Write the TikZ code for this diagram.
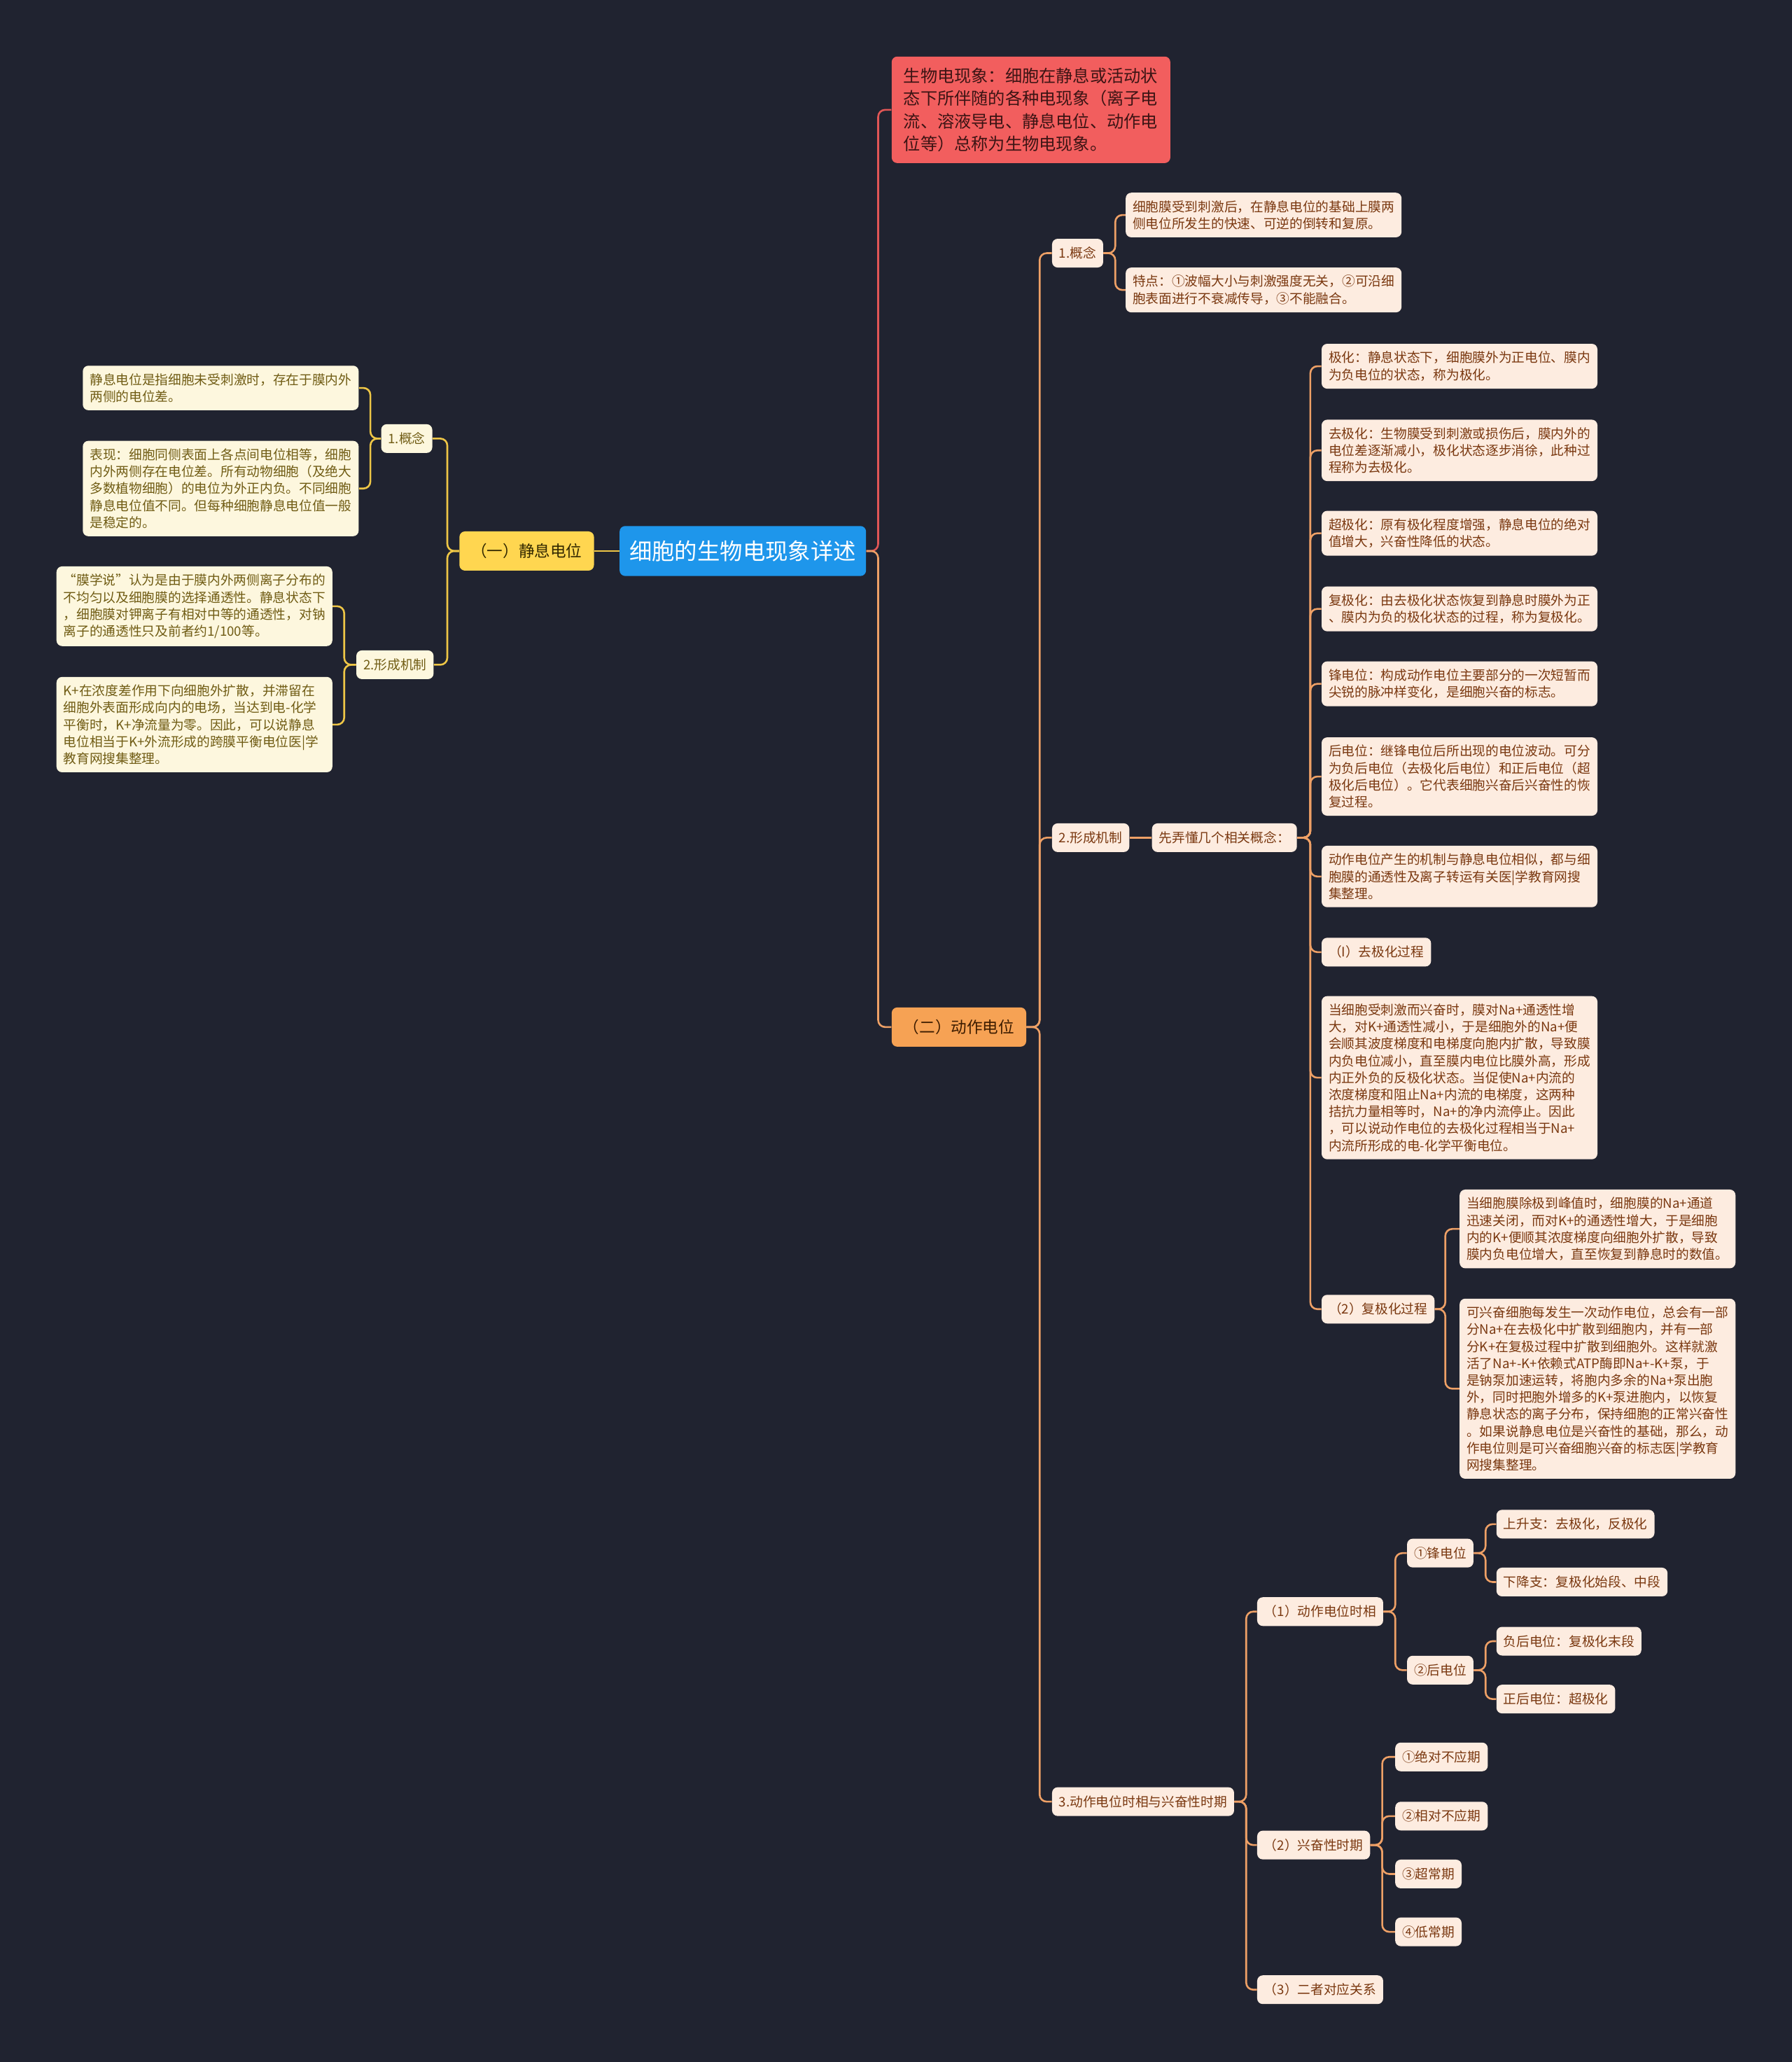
\documentclass[tikz,border=0pt]{standalone}
\usepackage{fontspec}
\setmainfont{Noto Sans CJK SC}
\definecolor{bgdark}{RGB}{32,35,48}
\definecolor{rootblue}{RGB}{30,150,235}
\definecolor{mainyel}{RGB}{255,214,80}
\definecolor{mainora}{RGB}{246,162,84}
\definecolor{mainred}{RGB}{242,94,94}
\definecolor{creamyel}{RGB}{253,247,222}
\definecolor{creamora}{RGB}{253,236,224}
\definecolor{txtolive}{RGB}{112,92,20}
\definecolor{txtbrown}{RGB}{122,56,16}
\definecolor{lnyel}{RGB}{238,198,70}
\definecolor{lnora}{RGB}{238,160,102}
\definecolor{lnred}{RGB}{225,86,86}

\begin{document}
\begin{tikzpicture}[x=0.939pt, y=-0.939pt,
    leaf/.style={rounded corners=4pt, inner xsep=5pt, inner ysep=5.5pt, minimum height=20.5pt,
        font=\fontsize{9.35pt}{12.1pt}\selectfont, align=left},
    yleaf/.style={leaf, fill=creamyel, text=txtolive},
    oleaf/.style={leaf, fill=creamora, text=txtbrown},
    wide/.style={text width=187pt},
    topic/.style={rounded corners=4pt, inner xsep=8.5pt, minimum height=28pt,
        font=\fontsize{11.3pt}{14pt}\selectfont},
    lnY/.style={draw=lnyel, line width=1.3pt, rounded corners=5pt},
    lnO/.style={draw=lnora, line width=1.3pt, rounded corners=5pt},
    lnR/.style={draw=lnred, line width=1.3pt, rounded corners=5pt}]

\fill[bgdark] (0,0) rectangle (1363,1568);

% centre
\node[fill=rootblue, text=white, rounded corners=4pt, inner xsep=7pt, minimum height=35.7pt,
    font=\fontsize{16.2pt}{19pt}\selectfont] (root) at (565,419) {细胞的生物电现象详述};

% (一) 静息电位
\node[topic, fill=mainyel, text={rgb,255:red,50;green,40;blue,0}, anchor=east] (rest) at (452,419) {（一）静息电位};
\node[yleaf, anchor=east] (restA) at (329,333.5) {1.概念};
\node[yleaf, wide, anchor=east] (restAa) at (273,295) {静息电位是指细胞未受刺激时，存在于膜内外\\两侧的电位差。};
\node[yleaf, wide, anchor=east] (restAb) at (273,371.5) {表现：细胞同侧表面上各点间电位相等，细胞\\内外两侧存在电位差。所有动物细胞（及绝大\\多数植物细胞）的电位为外正内负。不同细胞\\静息电位值不同。但每种细胞静息电位值一般\\是稳定的。};
\node[yleaf, anchor=east] (restB) at (330,505.5) {2.形成机制};
\node[yleaf, wide, anchor=east] (restBa) at (253,461) {“膜学说”认为是由于膜内外两侧离子分布的\\不均匀以及细胞膜的选择通透性。静息状态下\\，细胞膜对钾离子有相对中等的通透性，对钠\\离子的通透性只及前者约1/100等。};
\node[yleaf, wide, anchor=east] (restBb) at (253,551) {K+在浓度差作用下向细胞外扩散，并滞留在\\细胞外表面形成向内的电场，当达到电-化学\\平衡时，K+净流量为零。因此，可以说静息\\电位相当于K+外流形成的跨膜平衡电位医|学\\教育网搜集整理。};

% 生物电现象
\node[fill=mainred, text={rgb,255:red,60;green,20;blue,20}, rounded corners=4pt, inner xsep=8.5pt, inner ysep=8pt,
    text width=182pt, align=left, font=\fontsize{12.1pt}{16.2pt}\selectfont, anchor=west] (bio) at (678,83.5)
    {生物电现象：细胞在静息或活动状\\态下所伴随的各种电现象（离子电\\流、溶液导电、静息电位、动作电\\位等）总称为生物电现象。};

% (二) 动作电位
\node[topic, fill=mainora, text={rgb,255:red,60;green,28;blue,0}, anchor=west] (act) at (678,781) {（二）动作电位};
\node[oleaf, anchor=west] (actA) at (800,192.5) {1.概念};
\node[oleaf, wide, anchor=west] (actAa) at (856,163.5) {细胞膜受到刺激后，在静息电位的基础上膜两\\侧电位所发生的快速、可逆的倒转和复原。};
\node[oleaf, wide, anchor=west] (actAb) at (856,220.5) {特点：①波幅大小与刺激强度无关，②可沿细\\胞表面进行不衰减传导，③不能融合。};

\node[oleaf, anchor=west] (actB) at (800,637) {2.形成机制};
\node[oleaf, anchor=west] (actBx) at (876,637) {先弄懂几个相关概念：};
\node[oleaf, wide, anchor=west] (p1) at (1005,278.5) {极化：静息状态下，细胞膜外为正电位、膜内\\为负电位的状态，称为极化。};
\node[oleaf, wide, anchor=west] (p2) at (1005,342.5) {去极化：生物膜受到刺激或损伤后，膜内外的\\电位差逐渐减小，极化状态逐步消徐，此种过\\程称为去极化。};
\node[oleaf, wide, anchor=west] (p3) at (1005,405.5) {超极化：原有极化程度增强，静息电位的绝对\\值增大，兴奋性降低的状态。};
\node[oleaf, wide, anchor=west] (p4) at (1005,463) {复极化：由去极化状态恢复到静息时膜外为正\\、膜内为负的极化状态的过程，称为复极化。};
\node[oleaf, wide, anchor=west] (p5) at (1005,520) {锋电位：构成动作电位主要部分的一次短暂而\\尖锐的脉冲样变化，是细胞兴奋的标志。};
\node[oleaf, wide, anchor=west] (p6) at (1005,590.5) {后电位：继锋电位后所出现的电位波动。可分\\为负后电位（去极化后电位）和正后电位（超\\极化后电位）。它代表细胞兴奋后兴奋性的恢\\复过程。};
\node[oleaf, wide, anchor=west] (p7) at (1005,666.5) {动作电位产生的机制与静息电位相似，都与细\\胞膜的通透性及离子转运有关医|学教育网搜\\集整理。};
\node[oleaf, anchor=west] (p8) at (1005,724) {（I）去极化过程};
\node[oleaf, wide, anchor=west] (p9) at (1005,819.5) {当细胞受刺激而兴奋时，膜对Na+通透性增\\大，对K+通透性减小，于是细胞外的Na+便\\会顺其波度梯度和电梯度向胞内扩散，导致膜\\内负电位减小，直至膜内电位比膜外高，形成\\内正外负的反极化状态。当促使Na+内流的\\浓度梯度和阻止Na+内流的电梯度，这两种\\拮抗力量相等时，Na+的净内流停止。因此\\，可以说动作电位的去极化过程相当于Na+\\内流所形成的电-化学平衡电位。};
\node[oleaf, anchor=west] (p10) at (1005,995.5) {（2）复极化过程};
\node[oleaf, wide, anchor=west] (p10a) at (1110,934.5) {当细胞膜除极到峰值时，细胞膜的Na+通道\\迅速关闭，而对K+的通透性增大，于是细胞\\内的K+便顺其浓度梯度向细胞外扩散，导致\\膜内负电位增大，直至恢复到静息时的数值。};
\node[oleaf, wide, anchor=west] (p10b) at (1110,1056) {可兴奋细胞每发生一次动作电位，总会有一部\\分Na+在去极化中扩散到细胞内，并有一部\\分K+在复极过程中扩散到细胞外。这样就激\\活了Na+-K+依赖式ATP酶即Na+-K+泵，于\\是钠泵加速运转，将胞内多余的Na+泵出胞\\外，同时把胞外增多的K+泵进胞内，以恢复\\静息状态的离子分布，保持细胞的正常兴奋性\\。如果说静息电位是兴奋性的基础，那么，动\\作电位则是可兴奋细胞兴奋的标志医|学教育\\网搜集整理。};

\node[oleaf, anchor=west] (actC) at (800,1370) {3.动作电位时相与兴奋性时期};
\node[oleaf, anchor=west] (q1) at (956,1225.5) {（1）动作电位时相};
\node[oleaf, anchor=west] (q1a) at (1070,1181) {①锋电位};
\node[oleaf, anchor=west] (q1a1) at (1138,1159) {上升支：去极化，反极化};
\node[oleaf, anchor=west] (q1a2) at (1138,1203) {下降支：复极化始段、中段};
\node[oleaf, anchor=west] (q1b) at (1070,1270) {②后电位};
\node[oleaf, anchor=west] (q1b1) at (1138,1248) {负后电位：复极化末段};
\node[oleaf, anchor=west] (q1b2) at (1138,1292) {正后电位：超极化};
\node[oleaf, anchor=west] (q2) at (956,1403) {（2）兴奋性时期};
\node[oleaf, anchor=west] (q21) at (1061,1336) {①绝对不应期};
\node[oleaf, anchor=west] (q22) at (1061,1381) {②相对不应期};
\node[oleaf, anchor=west] (q23) at (1061,1425) {③超常期};
\node[oleaf, anchor=west] (q24) at (1061,1469) {④低常期};
\node[oleaf, anchor=west] (q3) at (956,1513) {（3）二者对应关系};

% connectors, left
\draw[lnY] (root.west) -- (rest.east);
\foreach \c in {restA,restB} \draw[lnY] (rest.west) -- ++(-9,0) |- (\c.east);
\foreach \c in {restAa,restAb} \draw[lnY] (restA.west) -- ++(-8,0) |- (\c.east);
\foreach \c in {restBa,restBb} \draw[lnY] (restB.west) -- ++(-9,0) |- (\c.east);

% connectors, right
\draw[lnR] (root.east) -- ++(9,0) |- (bio.west);
\draw[lnO] (root.east) -- ++(9,0) |- (act.west);
\foreach \c in {actA,actB,actC} \draw[lnO] (act.east) -- ++(10,0) |- (\c.west);
\foreach \c in {actAa,actAb} \draw[lnO] (actA.east) -- ++(9,0) |- (\c.west);
\draw[lnO] (actB.east) -- (actBx.west);
\foreach \c in {p1,p2,p3,p4,p5,p6,p7,p8,p9,p10} \draw[lnO] (actBx.east) -- ++(10,0) |- (\c.west);
\foreach \c in {p10a,p10b} \draw[lnO] (p10.east) -- ++(8,0) |- (\c.west);
\foreach \c in {q1,q2,q3} \draw[lnO] (actC.east) -- ++(9,0) |- (\c.west);
\foreach \c in {q1a,q1b} \draw[lnO] (q1.east) -- ++(9,0) |- (\c.west);
\foreach \c in {q1a1,q1a2} \draw[lnO] (q1a.east) -- ++(9,0) |- (\c.west);
\foreach \c in {q1b1,q1b2} \draw[lnO] (q1b.east) -- ++(9,0) |- (\c.west);
\foreach \c in {q21,q22,q23,q24} \draw[lnO] (q2.east) -- ++(9,0) |- (\c.west);
\end{tikzpicture}
\end{document}
